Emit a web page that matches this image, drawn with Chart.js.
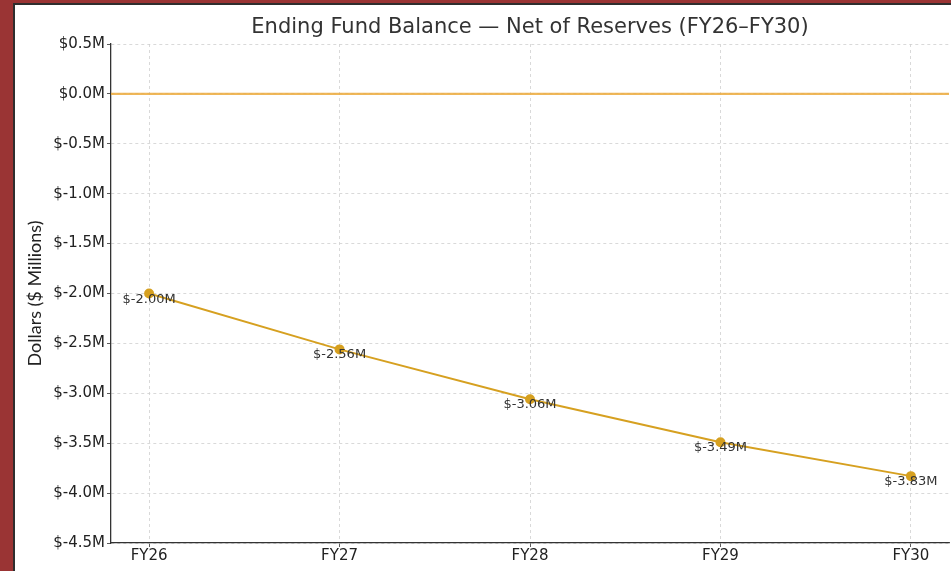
<!DOCTYPE html>
<html>
<head>
<meta charset="utf-8">
<script src="https://cdn.jsdelivr.net/npm/chart.js@4/dist/chart.umd.min.js"></script>
<style>
  html,body{margin:0;padding:0;background:#9a3434;overflow:hidden;}
  #frame{position:absolute;left:13px;top:3px;width:942px;height:568px;background:#2e2e2e;}
  #wrap{position:absolute;left:15px;top:5px;width:940px;height:566px;background:#fff;}
</style>
</head>
<body>
<div id="frame"></div>
<div id="wrap"><canvas id="myChart" width="940" height="566"></canvas></div>
<script>
var chartTitle='Ending Fund Balance — Net of Reserves (FY26–FY30)'
var categories=['FY26','FY27','FY28','FY29','FY30']
var balance=[-2.00,-2.56,-3.06,-3.49,-3.83]
var yTicks=[0.5,0.0,-0.5,-1.0,-1.5,-2.0,-2.5,-3.0,-3.5,-4.0,-4.5]

var pts=[]
for(i=0;i<categories.length;i++){
    pts.push({x:i,y:balance[i]})
}

// zero line, value labels, title centred over the plot
const extras={
    id:'extras',
    beforeDatasetsDraw(chart){
        const c=chart.ctx, a=chart.chartArea, y0=chart.scales.y.getPixelForValue(0)
        c.save()
        c.strokeStyle='rgba(236,170,60,0.85)'
        c.lineWidth=2.2
        c.beginPath();c.moveTo(a.left,y0);c.lineTo(a.right,y0);c.stroke()
        c.restore()
    },
    afterDatasetsDraw(chart){
        const c=chart.ctx, a=chart.chartArea, meta=chart.getDatasetMeta(0)
        c.save()
        c.font='13px "DejaVu Sans"'
        c.fillStyle='#333'
        c.textAlign='center'
        c.textBaseline='alphabetic'
        meta.data.forEach(function(p,i){
            c.fillText('$'+balance[i].toFixed(2)+'M',p.x,p.y+9)
        })
        c.font='21px "DejaVu Sans"'
        c.textBaseline='middle'
        c.fillText(chartTitle,(a.left+a.right)/2,23)
        c.restore()
    }
}

var ctx=document.getElementById('myChart').getContext('2d')
const chart=new Chart(ctx,{
    type:'line',
    data:{
        datasets:[{
            label:'Ending Fund Balance',
            data:pts,
            borderColor:'#d6a020',
            backgroundColor:'#d6a020',
            borderWidth:2,
            pointRadius:4,
            pointBackgroundColor:'#d6a020',
            pointBorderColor:'#d6a020',
            tension:0
        }]
    },
    options:{
        responsive:false,
        animation:false,
        layout:{padding:{left:0,right:0,top:39,bottom:0}},
        plugins:{
            legend:{display:false},
            tooltip:{enabled:false},
            title:{display:false}
        },
        scales:{
            x:{
                type:'linear',
                min:-0.2,max:4.2,
                afterBuildTicks:function(s){s.ticks=categories.map(function(c,i){return {value:i}})},
                afterFit:function(s){s.height=28},
                ticks:{
                    callback:function(v){return categories[v]},
                    color:'#222',
                    font:{family:'DejaVu Sans',size:15},
                    padding:0,maxRotation:0
                },
                grid:{color:'#d0d0d0',lineWidth:0.8,tickColor:'#333',tickLength:4},
                border:{color:'#333',width:1.3,dash:[3,3]}
            },
            y:{
                min:-4.5,max:0.5,
                afterBuildTicks:function(s){s.ticks=yTicks.map(function(v){return {value:v}})},
                afterFit:function(s){s.width=96},
                ticks:{
                    callback:function(v){return '$'+v.toFixed(1)+'M'},
                    color:'#222',
                    font:{family:'DejaVu Sans',size:15},
                    padding:2
                },
                grid:{color:'#d0d0d0',lineWidth:0.8,tickColor:'#333',tickLength:4},
                border:{color:'#333',width:1.3,dash:[3,3]},
                title:{
                    display:true,
                    text:'Dollars ($ Millions)',
                    color:'#222',
                    font:{family:'Lato',size:18},
                    padding:{top:9,bottom:0}
                }
            }
        }
    },
    plugins:[extras]
})
</script>
</body>
</html>
